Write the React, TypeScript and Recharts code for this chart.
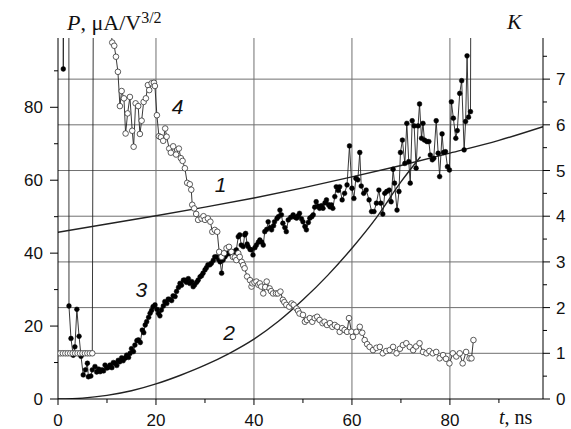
import React from 'react';
import { LineChart, Line, XAxis, YAxis, ReferenceLine, ReferenceDot } from 'recharts';

// ---- axis ticks ----
const tTicks = [0, 10, 20, 30, 40, 50, 60, 70, 80, 90];
const topTicks = [10, 30, 50, 70, 90];
const pTicks = [0, 10, 20, 30, 40, 50, 60, 70, 80, 90];
const kTicks = [0, 0.5, 1, 1.5, 2, 2.5, 3, 3.5, 4, 4.5, 5, 5.5, 6, 6.5, 7, 7.5];
const gridT = [20, 40, 60, 80];
const gridK = [1, 2, 3, 4, 5, 6, 7];

// ---- curve 1 (K) ----
const curve1: [number, number][] = [
  [0, 3.65], [10, 3.83], [20, 4.01], [30, 4.2], [40, 4.4], [50, 4.62],
  [60, 4.86], [70, 5.11], [80, 5.38], [90, 5.66], [99, 5.96],
];

// ---- curve 2 (K) ----
const curve2: [number, number][] = [
  [0, 0], [5, 0.02], [10, 0.08], [15, 0.18], [20, 0.33], [25, 0.52], [30, 0.74],
  [35, 1.0], [40, 1.31], [45, 1.7], [50, 2.17], [55, 2.7], [60, 3.3], [65, 3.97],
  [70, 4.75], [74, 5.3],
];

// ---- series 3 (P, filled circles) ----
const series3: [number, number][] = [
  [0.6, 400], [1.08, 90.5], [2.15, 400], [2.24, 25.5], [2.65, 16.6], [3.1, 12.0], [3.45, 14.3],
  [3.85, 24.6], [4.3, 17.2], [4.7, 11.7], [5.15, 6.6], [5.6, 8.0], [6.0, 9.8], [6.2, 6.1],
  [6.7, 6.3], [7.0, 8.0], [7.55, 8.9], [7.9, 7.4], [8.3, 8.2], [8.6, 7.5], [9.0, 8.0],
  [9.3, 7.7], [9.6, 9.3], [10.0, 8.5], [10.3, 8.7], [10.6, 9.3], [11.0, 8.6], [11.3, 10.0],
  [11.6, 9.8], [12.0, 9.2], [12.3, 10.6], [12.6, 10.2], [13.0, 11.3], [13.3, 10.5], [13.7, 11.2],
  [14.0, 12.0], [14.4, 11.4], [14.7, 12.5], [15.0, 13.8], [15.4, 13.0], [15.7, 14.8], [16.1, 16.0],
  [16.4, 16.2], [16.8, 15.5], [17.2, 18.9], [17.5, 18.2], [17.8, 20.3], [18.1, 21.2], [18.5, 22.4],
  [18.8, 23.5], [19.1, 24.3], [19.4, 25.3], [19.8, 25.8], [20.2, 24.6], [20.5, 23.5], [20.8, 22.8],
  [21.1, 24.4], [21.5, 25.5], [21.8, 26.7], [22.2, 26.2], [22.5, 27.4], [22.8, 27.3], [23.2, 27.0],
  [23.5, 28.3], [23.9, 28.1], [24.2, 29.5], [24.6, 30.6], [24.9, 31.7], [25.2, 31.2], [25.6, 32.6],
  [25.9, 32.6], [26.2, 32.0], [26.6, 33.0], [26.9, 31.7], [27.3, 32.2], [27.6, 30.8], [27.9, 31.3],
  [28.3, 32.0], [28.6, 32.6], [29.0, 33.5], [29.3, 33.8], [29.6, 34.5], [30.0, 35.4], [30.3, 36.0],
  [30.6, 36.8], [31.0, 36.8], [31.3, 37.2], [31.7, 38.0], [32.0, 39.0], [32.4, 39.0], [32.8, 38.2],
  [33.1, 37.6], [33.4, 34.5], [33.7, 38.1], [34.1, 39.0], [34.4, 39.6], [34.7, 40.0], [35.1, 40.0],
  [35.5, 39.5], [35.8, 39.8], [36.1, 40.5], [36.4, 40.9], [36.8, 44.5], [37.1, 45.0], [37.4, 42.2],
  [37.8, 41.8], [38.1, 45.0], [38.3, 45.4], [38.6, 42.5], [38.8, 41.8], [39.2, 41.0], [39.5, 40.9],
  [39.8, 39.5], [40.2, 41.5], [40.5, 42.2], [40.9, 43.0], [41.2, 43.6], [41.6, 43.0], [41.9, 42.2],
  [42.2, 45.9], [42.6, 46.5], [42.9, 48.6], [43.3, 47.0], [43.6, 46.4], [44.0, 47.5], [44.2, 48.6],
  [44.7, 49.5], [45.0, 50.0], [45.3, 51.8], [45.6, 50.5], [45.9, 48.2], [46.3, 47.0], [46.6, 45.9],
  [47.0, 49.1], [47.5, 49.8], [48.0, 50.5], [48.3, 49.9], [48.7, 49.6], [49.0, 50.2], [49.3, 50.9],
  [49.7, 49.4], [50.0, 48.6], [50.4, 47.3], [50.7, 46.4], [51.1, 48.4], [51.4, 49.6], [51.8, 50.0],
  [52.1, 50.5], [52.4, 52.6], [52.7, 54.1], [53.1, 52.9], [53.4, 52.3], [53.8, 53.0], [54.1, 52.3],
  [54.5, 53.8], [54.8, 54.6], [55.2, 53.3], [55.5, 52.7], [55.8, 53.2], [56.1, 52.3], [56.5, 55.5],
  [56.8, 58.2], [57.2, 57.2], [57.5, 58.2], [58.0, 54.6], [58.5, 56.4], [59.0, 58.7], [59.5, 69.4],
  [60.0, 57.8], [60.4, 55.0], [60.8, 60.5], [61.2, 60.1], [61.6, 67.6], [61.9, 58.4], [62.4, 56.4],
  [62.9, 57.3], [63.5, 54.6], [64.0, 51.4], [64.5, 51.4], [65.0, 53.7], [65.5, 57.3], [65.9, 53.7],
  [66.3, 50.7], [66.7, 56.4], [67.1, 56.9], [67.6, 57.3], [68.0, 54.1], [68.4, 63.0], [68.7, 59.2],
  [69.2, 51.8], [69.6, 56.9], [69.9, 67.6], [70.3, 71.0], [70.8, 64.6], [71.2, 75.6], [71.6, 65.1],
  [71.9, 59.2], [72.3, 76.3], [72.7, 74.9], [73.1, 63.3], [73.5, 74.9], [73.8, 80.9], [74.2, 71.5],
  [74.5, 75.6], [74.8, 71.0], [75.3, 70.6], [75.7, 70.6], [76.0, 66.9], [76.4, 65.6], [76.7, 66.0],
  [77.2, 76.3], [77.6, 67.4], [77.9, 61.0], [78.4, 72.7], [78.7, 67.6], [79.1, 67.8], [79.5, 63.7],
  [79.9, 62.8], [80.3, 81.5], [80.7, 77.0], [81.2, 71.5], [81.5, 73.6], [82.0, 83.8], [82.4, 87.3],
  [82.9, 68.3], [83.2, 76.1], [83.5, 94.1], [83.8, 77.3], [84.2, 78.8], [84.8, 400],
];

// ---- series 4 (K, open circles) ----
const series4: [number, number][] = [
  [0, 1], [0.5, 1], [1, 1], [1.5, 1], [2, 1], [2.5, 1], [3, 1], [3.5, 1], [4, 1], [4.5, 1],
  [5, 1], [5.5, 1], [6, 1], [6.5, 1], [7, 1], [7.3, 12],
  [11.07, 7.8], [11.48, 7.73], [11.83, 7.49], [12.23, 7.16], [12.64, 6.41], [12.99, 6.74],
  [13.46, 6.58], [13.8, 5.81], [14.21, 6.25], [14.68, 6.61], [15.15, 5.87], [15.44, 5.52],
  [15.84, 6.47], [16.37, 6.41], [16.72, 5.8], [17.07, 6.09], [17.48, 6.5], [17.94, 6.58],
  [18.35, 6.87], [18.62, 6.76], [19.11, 6.91], [19.58, 6.92], [19.78, 6.85], [20.19, 6.21],
  [20.6, 5.75], [21.0, 5.73], [21.47, 5.65], [21.88, 5.92], [22.17, 5.74], [22.7, 5.48],
  [23.04, 5.39], [23.51, 5.53], [24.1, 5.35], [24.67, 5.48], [25.08, 5.27], [25.43, 5.21],
  [25.9, 5.05], [26.37, 4.73], [26.9, 4.7], [27.2, 4.58], [27.4, 4.25], [27.8, 4.17], [28.2, 4.05],
  [28.6, 3.92], [29.3, 3.95], [29.7, 4.0], [30.0, 3.92], [30.6, 3.95], [31.1, 3.88], [31.5, 3.66],
  [32.0, 3.7], [32.5, 3.66], [32.9, 3.22], [33.4, 3.11], [33.9, 3.19], [34.4, 3.3], [34.9, 3.33],
  [35.4, 3.22], [35.7, 3.11], [36.1, 3.1], [36.4, 3.04], [36.8, 3.19], [37.1, 3.11], [37.5, 3.0],
  [37.8, 2.93], [38.1, 2.86], [38.6, 2.68], [39.2, 2.6], [39.5, 2.46], [39.7, 2.53], [40.1, 2.55],
  [40.5, 2.57], [40.9, 2.5], [41.2, 2.53], [41.5, 2.46], [41.9, 2.31], [42.3, 2.45], [42.6, 2.57],
  [43.2, 2.42], [43.5, 2.36], [43.9, 2.31], [44.5, 2.31], [44.9, 2.31], [45.4, 2.35], [45.9, 2.17],
  [46.2, 2.12], [46.6, 2.06], [47.2, 2.02], [47.7, 2.09], [48.1, 2.06], [48.7, 1.98], [49.0, 1.93],
  [49.3, 1.87], [50.0, 1.84], [50.4, 1.69], [50.8, 1.73], [51.4, 1.77], [51.9, 1.69], [52.4, 1.77],
  [52.9, 1.8], [53.4, 1.73], [54.0, 1.66], [54.4, 1.69], [54.9, 1.62], [55.5, 1.66], [56.0, 1.58],
  [56.5, 1.62], [57.0, 1.58], [57.5, 1.47], [58.0, 1.55], [58.5, 1.51], [59.0, 1.47], [59.4, 1.77],
  [59.9, 1.47], [60.2, 1.36], [60.9, 1.47], [61.6, 1.58], [62.1, 1.45], [62.6, 1.29], [63.1, 1.2],
  [63.6, 1.14], [64.3, 1.07], [65.0, 1.12], [65.7, 1.14], [66.3, 1.0], [67.0, 1.05], [67.7, 1.07],
  [68.4, 1.14], [69.1, 1.0], [69.8, 1.1], [70.4, 1.18], [71.1, 1.22], [71.8, 1.14], [72.5, 1.07],
  [73.1, 1.15], [73.8, 1.22], [74.5, 1.03], [75.2, 1.0], [75.8, 1.05], [76.5, 1.0], [77.2, 1.03],
  [77.9, 0.89], [78.6, 0.96], [79.2, 0.88], [79.9, 0.78], [80.6, 1.0], [81.3, 0.93], [82.0, 1.0],
  [82.6, 0.78], [83.3, 1.03], [84.0, 0.89], [84.4, 0.89], [84.8, 1.29],
];

// ---- curve number labels (t, P) ----
const curveLabels: { text: string; t: number; p: number }[] = [
  { text: '4', t: 24.4, p: 80.2 },
  { text: '1', t: 33.2, p: 58.9 },
  { text: '3', t: 17.0, p: 30.1 },
  { text: '2', t: 34.9, p: 18.2 },
];

const toData = (arr: [number, number][]) => arr.map(([t, v]) => ({ t, v }));

const SANS = '"Liberation Sans", Arial, sans-serif';
const SERIF = '"Liberation Serif", "Times New Roman", serif';
const TICK_FS = 17;

const BottomTick = (props: any) => {
  const { x, y, payload } = props;
  const v = payload.value;
  const major = v % 20 === 0;
  return (
    <g>
      <line x1={x} x2={x} y1={y} y2={y + (major ? 6 : 4)} stroke="#000" strokeWidth={1} />
      {major && (
        <text x={x} y={y + 27} textAnchor="middle" fontSize={TICK_FS} fontFamily={SANS} fill="#111">
          {v}
        </text>
      )}
    </g>
  );
};

const LeftTick = (props: any) => {
  const { x, y, payload } = props;
  const v = payload.value;
  const major = v % 20 === 0;
  return (
    <g>
      <line x1={x - (major ? 8 : 4)} x2={x} y1={y} y2={y} stroke="#000" strokeWidth={1} />
      {major && (
        <text x={x - 15} y={y} dy="0.36em" textAnchor="end" fontSize={TICK_FS} fontFamily={SANS} fill="#111">
          {v}
        </text>
      )}
    </g>
  );
};

const RightTick = (props: any) => {
  const { x, y, payload } = props;
  const v = payload.value;
  const major = Number.isInteger(v);
  return (
    <g>
      <line x1={x} x2={x + (major ? 7 : 4)} y1={y} y2={y} stroke="#000" strokeWidth={1} />
      {major && (
        <text x={x + 13} y={y} dy="0.36em" textAnchor="start" fontSize={TICK_FS} fontFamily={SANS} fill="#111">
          {v}
        </text>
      )}
    </g>
  );
};

const CurveLabel = (props: any) => {
  const { viewBox, text } = props;
  return (
    <text
      x={viewBox.x}
      y={viewBox.y}
      dy="0.36em"
      textAnchor="middle"
      fontSize={21}
      fontStyle="italic"
      fontFamily={SANS}
      fill="#111"
    >
      {text}
    </text>
  );
};

export default function App() {
  return (
    <div style={{ position: 'absolute', left: 0, top: 0, width: 571, height: 429, background: '#fff' }}>
      <LineChart width={571} height={429} margin={{ top: 38, right: 0, bottom: 0, left: 0 }}>
        <XAxis
          xAxisId="b"
          type="number"
          dataKey="t"
          domain={[0, 99]}
          ticks={tTicks}
          interval={0}
          allowDataOverflow
          height={30}
          tickSize={0}
          tickMargin={0}
          tickLine={false}
          tick={<BottomTick />}
          axisLine={{ stroke: '#000', strokeWidth: 1 }}
        />
        <XAxis
          xAxisId="top"
          orientation="top"
          type="number"
          dataKey="t"
          domain={[0, 99]}
          ticks={topTicks}
          interval={0}
          allowDataOverflow
          height={0}
          mirror
          tick={false}
          tickSize={4}
          tickLine={{ stroke: '#000', strokeWidth: 1 }}
          axisLine={{ stroke: '#000', strokeWidth: 1 }}
        />
        <YAxis
          yAxisId="left"
          type="number"
          domain={[0, 99]}
          ticks={pTicks}
          interval={0}
          allowDataOverflow
          width={58}
          tickSize={0}
          tickMargin={0}
          tickLine={false}
          tick={<LeftTick />}
          axisLine={{ stroke: '#000', strokeWidth: 1 }}
        />
        <YAxis
          yAxisId="right"
          orientation="right"
          type="number"
          domain={[0, 7.9]}
          ticks={kTicks}
          interval={0}
          allowDataOverflow
          width={28}
          tickSize={0}
          tickMargin={0}
          tickLine={false}
          tick={<RightTick />}
          axisLine={{ stroke: '#000', strokeWidth: 1 }}
        />

        {gridT.map((v) => (
          <ReferenceLine key={`gx${v}`} xAxisId="b" yAxisId="left" x={v} stroke="#707070" strokeWidth={1} />
        ))}
        {gridK.map((v) => (
          <ReferenceLine key={`gy${v}`} xAxisId="b" yAxisId="right" y={v} stroke="#707070" strokeWidth={1} />
        ))}

        <Line
          data={toData(curve2)}
          dataKey="v"
          xAxisId="b"
          yAxisId="right"
          type="monotone"
          stroke="#222"
          strokeWidth={1.4}
          dot={false}
          isAnimationActive={false}
        />
        <Line
          data={toData(curve1)}
          dataKey="v"
          xAxisId="b"
          yAxisId="right"
          type="monotone"
          stroke="#222"
          strokeWidth={1.4}
          dot={false}
          isAnimationActive={false}
        />
        <Line
          data={toData(series3)}
          dataKey="v"
          xAxisId="b"
          yAxisId="left"
          type="linear"
          stroke="#222"
          strokeWidth={0.9}
          dot={{ r: 2.4, fill: '#000', stroke: '#000', strokeWidth: 0.5 }}
          isAnimationActive={false}
        />
        <Line
          data={toData(series4)}
          dataKey="v"
          xAxisId="b"
          yAxisId="right"
          type="linear"
          stroke="#222"
          strokeWidth={0.9}
          dot={{ r: 2.8, fill: '#fff', stroke: '#333', strokeWidth: 0.8 }}
          isAnimationActive={false}
        />

        {curveLabels.map((l) => (
          <ReferenceDot
            key={`lab${l.text}`}
            xAxisId="b"
            yAxisId="left"
            x={l.t}
            y={l.p}
            r={0}
            fill="none"
            stroke="none"
            label={<CurveLabel text={l.text} />}
          />
        ))}
      </LineChart>

      <svg
        width={571}
        height={429}
        style={{ position: 'absolute', left: 0, top: 0, pointerEvents: 'none' }}
      >
        <text x={67} y={30} fontFamily={SERIF} fontSize={22} fill="#111">
          <tspan fontStyle="italic">P</tspan>
          <tspan>, μA/V</tspan>
          <tspan fontSize={16} dy={-7}>3/2</tspan>
        </text>
        <text x={507} y={29} fontFamily={SERIF} fontSize={22} fontStyle="italic" fill="#111">
          K
        </text>
        <text x={499} y={424} fontFamily={SERIF} fontSize={20} fill="#111">
          <tspan fontStyle="italic">t</tspan>
          <tspan>, ns</tspan>
        </text>
      </svg>
    </div>
  );
}
